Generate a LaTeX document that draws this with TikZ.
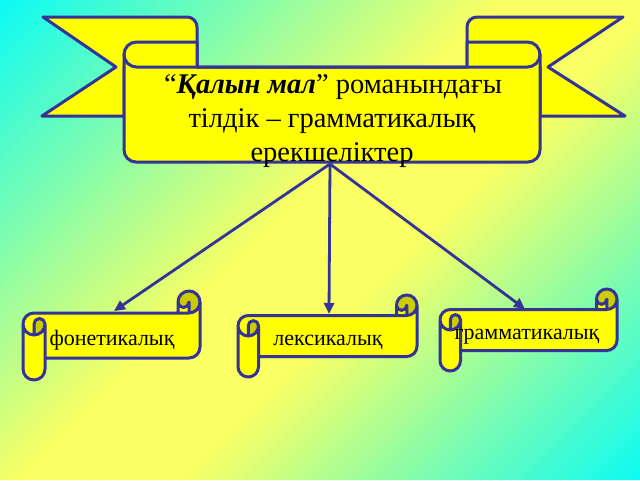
\documentclass[tikz,border=0pt]{standalone}
\usepackage{fontspec}
\setmainfont{Liberation Serif}
\usetikzlibrary{arrows.meta}
\definecolor{bgC}{RGB}{10,250,245}
\definecolor{bgY}{RGB}{250,255,100}
\definecolor{rib}{RGB}{255,255,0}
\definecolor{ribdark}{RGB}{204,204,0}
\definecolor{edge}{RGB}{51,51,153}
\tikzset{
  ribbon/.style={fill=rib, draw=edge, line width=3pt, line join=round},
  ribline/.style={draw=edge, line width=3pt, line join=round, line cap=round},
  conn/.style={draw=edge, line width=2.8pt, -{Triangle[length=11pt,width=10pt]}},
  titletext/.style={font=\fontsize{28.5}{33}\selectfont, anchor=base, inner sep=0pt},
  scrolltext/.style={font=\fontsize{22}{26}\selectfont, anchor=base, inner sep=0pt},
}
\newcommand\hscroll[5]{%
 \pgfmathsetmacro\sL{#1}\pgfmathsetmacro\sT{#2}\pgfmathsetmacro\sR{#3}\pgfmathsetmacro\sB{#4}%
 \pgfmathsetmacro\ch{#5}\pgfmathsetmacro\chh{#5/2}\pgfmathsetmacro\chq{#5/4}%
 \pgfmathsetmacro\yThree{\sT+1.5*\ch}%
 \pgfmathsetmacro\yFour{\sT+2*\ch}%
 \pgfmathsetmacro\ySix{\sB-\ch}%
 \pgfmathsetmacro\ySeven{\sB-\chh}%
 \pgfmathsetmacro\yFive{\ySix-\chh}%
 \pgfmathsetmacro\xThree{\sR-\ch}%
 \pgfmathsetmacro\xFour{\sR-\chh}%
 \pgfmathsetmacro\yCh{\sT+\ch}%
 \pgfmathsetmacro\yChh{\sT+\chh}%
 \pgfmathsetmacro\xCh{\sL+\ch}%
 \pgfmathsetmacro\xChh{\sL+\chh}%
 \fill[rib] (\sR,\yChh) arc[start angle=0,delta angle=90,radius=\chh] -- (\xFour,\yChh)
   arc[start angle=0,delta angle=180,radius=\chq] -- (\xThree,\yCh) -- (\xChh,\yCh)
   arc[start angle=270,delta angle=-90,radius=\chh] -- (\sL,\ySeven)
   arc[start angle=180,delta angle=-180,radius=\chh] -- (\xCh,\ySix) -- (\xFour,\ySix)
   arc[start angle=90,delta angle=-90,radius=\chh] -- cycle;
 \fill[ribdark] (\xChh,\yFour) arc[start angle=90,delta angle=-90,radius=\chh]
   arc[start angle=0,delta angle=-180,radius=\chq] -- cycle;
 \fill[ribdark] (\xFour,\yCh) arc[start angle=90,delta angle=-270,radius=\chh]
   arc[start angle=180,delta angle=-180,radius=\chq] -- cycle;
 \draw[ribline] (\sL,\yThree) arc[start angle=180,delta angle=90,radius=\chh] -- (\xThree,\yCh)
   -- (\xThree,\yChh) arc[start angle=180,delta angle=180,radius=\chh] -- (\sR,\yFive)
   arc[start angle=0,delta angle=90,radius=\chh] -- (\xCh,\ySix) -- (\xCh,\ySeven)
   arc[start angle=0,delta angle=180,radius=\chh] -- cycle
   (\xThree,\yCh) -- (\xFour,\yCh) arc[start angle=90,delta angle=-90,radius=\chh]
   (\xFour,\yCh) -- (\xFour,\yChh) arc[start angle=0,delta angle=180,radius=\chq]
   (\xChh,\yFour) -- (\xChh,\yThree) arc[start angle=180,delta angle=180,radius=\chq]
   arc[start angle=0,delta angle=180,radius=\chh]
   (\xCh,\yThree) -- (\xCh,\ySix);
}
\begin{document}
\begin{tikzpicture}[x=1pt,y=-1pt]
\useasboundingbox (0,0) rectangle (640,480);
% background gradient
\begin{scope}
\clip (0,0) rectangle (640,480);
\foreach \i in {0,...,112}{
  \pgfmathsetmacro\sm{10*\i+5}
  \pgfmathsetmacro\pa{max(0,(500-\sm)/5)}
  \pgfmathsetmacro\pb{max(0,(\sm-660)/4.6)}
  \pgfmathtruncatemacro\pc{min(100,\pa+\pb)}
  \fill[bgC!\pc!bgY] (10*\i,0) -- (10*\i+11,0) -- (10*\i-469,480) -- (10*\i-480,480) -- cycle;
}
\end{scope}
% wings
\path[ribbon] (43,17) -- (187,17) arc[start angle=-90,delta angle=90,radius=10] -- (197,67)
  -- (124,67) -- (124,116) -- (42,116) -- (116,67) -- cycle;
\path[ribbon] (623,17) -- (477,17) arc[start angle=-90,delta angle=-90,radius=10] -- (467,67)
  -- (540,67) -- (540,116) -- (625,116) -- (548,67) -- cycle;
% banner body
\path[ribbon] (124,54.5) arc[start angle=180,delta angle=90,radius=12.5] -- (197,42) -- (197,67)
  -- (467,67) -- (467,42) -- (527.5,42) arc[start angle=270,delta angle=90,radius=12.5]
  -- (540,150) arc[start angle=0,delta angle=90,radius=12] -- (136,162)
  arc[start angle=90,delta angle=90,radius=12] -- cycle;
\draw[ribline] (124,54.5) arc[start angle=180,delta angle=-90,radius=12.5] -- (527.5,67)
  arc[start angle=90,delta angle=-90,radius=12.5];
\node[titletext] (t1) at (333,93) {“\textbf{\textit{Қалын мал}}” романындағы};
\node[titletext] (t2) at (332,127) {тілдік – грамматикалық};
\node[titletext] (t3) at (332,161) {ерекшеліктер};
% scrolls
\hscroll{23}{291}{200}{380}{22}
\hscroll{238}{295}{417}{377}{20.5}
\hscroll{440}{289}{617}{371}{20.5}
\node[scrolltext] (fon) at (112,345) {фонетикалық};
\node[scrolltext] (lex) at (328,345) {лексикалық};
\node[scrolltext] (gram) at (527,339) {грамматикалық};
% connectors
\coordinate (apex) at (330,164);
\coordinate (fonT) at (114,311);
\coordinate (lexT) at (329,314);
\coordinate (gramT) at (525,309);
\draw[conn] (apex) -- (fonT);
\draw[conn] (apex) -- (lexT);
\draw[conn] (apex) -- (gramT);
\end{tikzpicture}
\end{document}
